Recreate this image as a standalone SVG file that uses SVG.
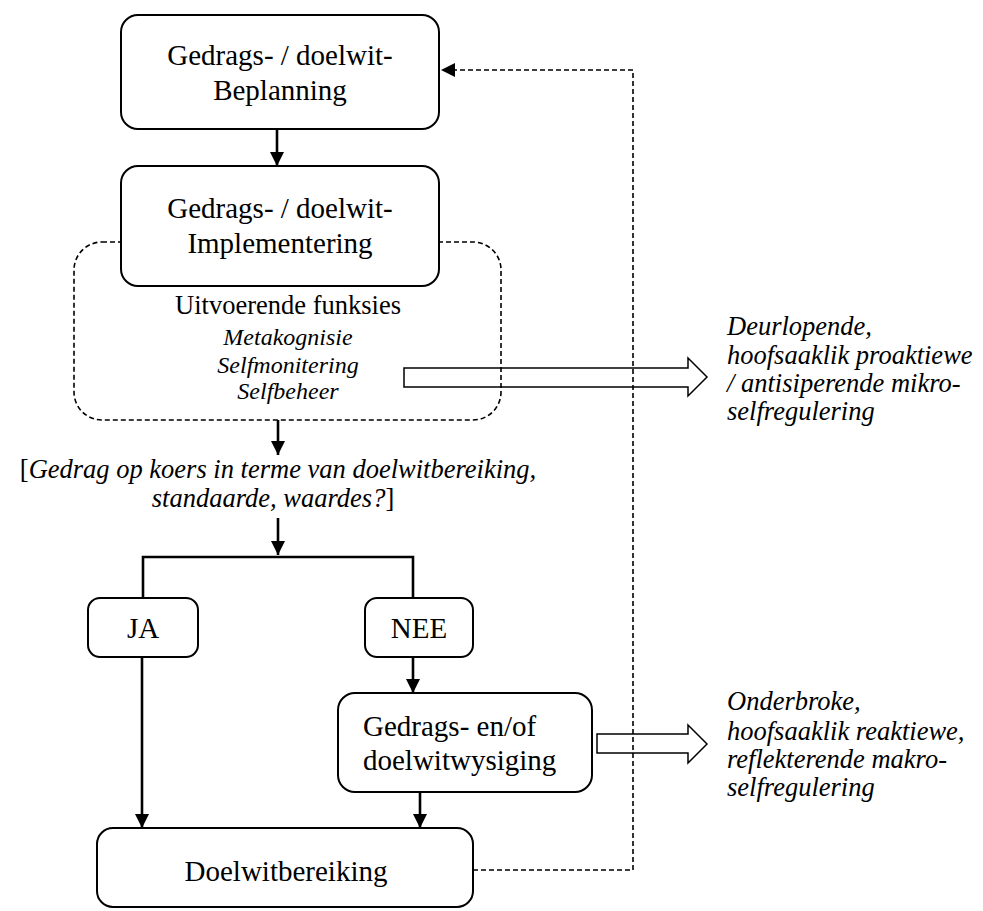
<svg xmlns="http://www.w3.org/2000/svg" width="983" height="911" viewBox="0 0 983 911">
<defs>
<style>
text{font-family:"Liberation Serif","Times New Roman",serif;fill:#000}
.m{font-size:29px}
.c{text-anchor:middle}
.it{font-style:italic}
.box{fill:#fff;stroke:#000;stroke-width:2}
.dash{fill:none;stroke:#000;stroke-width:1.6;stroke-dasharray:5 3}
.arr{fill:none;stroke:#000;stroke-width:2.6}
.open{fill:none;stroke:#000;stroke-width:1.5;stroke-linejoin:miter}
</style>
<marker id="ah" viewBox="0 0 10 10" refX="10" refY="5" markerWidth="14" markerHeight="14" markerUnits="userSpaceOnUse" orient="auto">
<path d="M0,0 L10,5 L0,10 z" fill="#000"/>
</marker>
</defs>
<rect width="983" height="911" fill="#fff"/>

<g id="exec-container">
<rect class="dash" x="74" y="242" width="427" height="178" rx="28" ry="28"/>
<text class="c" x="288" y="314" font-size="26.5">Uitvoerende funksies</text>
<text class="c it" x="288" y="345" font-size="24">Metakognisie</text>
<text class="c it" x="288" y="373" font-size="24">Selfmonitering</text>
<text class="c it" x="288" y="399" font-size="24">Selfbeheer</text>
</g>

<g id="open-arrow-1">
<path class="open" d="M404,368 H688 V358 L707,377 L688,396 V387 H404 Z"/>
</g>
<g id="open-arrow-2">
<path class="open" d="M597,734 H688 V725 L707,744 L688,763 V753 H597 Z"/>
</g>

<g id="connectors">
<line class="arr" x1="277" y1="129" x2="277" y2="166" marker-end="url(#ah)"/>
<line class="arr" x1="278" y1="420" x2="278" y2="455" marker-end="url(#ah)"/>
<line class="arr" x1="278" y1="518" x2="278" y2="555" marker-end="url(#ah)"/>
<polyline class="arr" points="143,598 143,557 413,557 413,598"/>
<line class="arr" x1="142" y1="657" x2="142" y2="828" marker-end="url(#ah)"/>
<line class="arr" x1="413" y1="657" x2="413" y2="693" marker-end="url(#ah)"/>
<line class="arr" x1="420" y1="792" x2="420" y2="828" marker-end="url(#ah)"/>
<polyline class="dash" points="473,870 633,870 633,70 441,70" marker-end="url(#ah)"/>
</g>

<g id="planning">
<rect class="box" x="121" y="15" width="318" height="114" rx="17"/>
<text class="m c" x="280" y="65">Gedrags- / doelwit-</text>
<text class="m c" x="280" y="100">Beplanning</text>
</g>

<g id="implementation">
<rect class="box" x="121" y="166" width="318" height="120" rx="17"/>
<text class="m c" x="280" y="218">Gedrags- / doelwit-</text>
<text class="m c" x="280" y="253">Implementering</text>
</g>

<g id="question">
<text class="c" x="278" y="478" font-size="26.5">[<tspan class="it">Gedrag op koers in terme van doelwitbereiking,</tspan></text>
<text class="c" x="273" y="507" font-size="26.5"><tspan class="it">standaarde, waardes?</tspan>]</text>
</g>

<g id="ja">
<rect class="box" x="88" y="598" width="110" height="59" rx="12"/>
<text class="m c" x="143" y="638">JA</text>
</g>

<g id="nee">
<rect class="box" x="365" y="598" width="108" height="59" rx="12"/>
<text class="m c" x="419" y="638">NEE</text>
</g>

<g id="modification">
<rect class="box" x="338" y="693" width="254" height="99" rx="17"/>
<text class="m" x="363" y="736">Gedrags- en/of</text>
<text class="m" x="363" y="770">doelwitwysiging</text>
</g>

<g id="achievement">
<rect class="box" x="97" y="828" width="376" height="79" rx="16"/>
<text class="m c" x="286" y="881">Doelwitbereiking</text>
</g>

<g id="micro-label">
<text class="it" x="727" y="335" font-size="26.5">Deurlopende,</text>
<text class="it" x="727" y="364" font-size="26.5">hoofsaaklik proaktiewe</text>
<text class="it" x="727" y="392" font-size="26.5">/ antisiperende mikro-</text>
<text class="it" x="727" y="420" font-size="26.5">selfregulering</text>
</g>

<g id="macro-label">
<text class="it" x="727" y="710" font-size="26.5">Onderbroke,</text>
<text class="it" x="727" y="740" font-size="26.5">hoofsaaklik reaktiewe,</text>
<text class="it" x="727" y="768" font-size="26.5">reflekterende makro-</text>
<text class="it" x="727" y="796" font-size="26.5">selfregulering</text>
</g>
</svg>
